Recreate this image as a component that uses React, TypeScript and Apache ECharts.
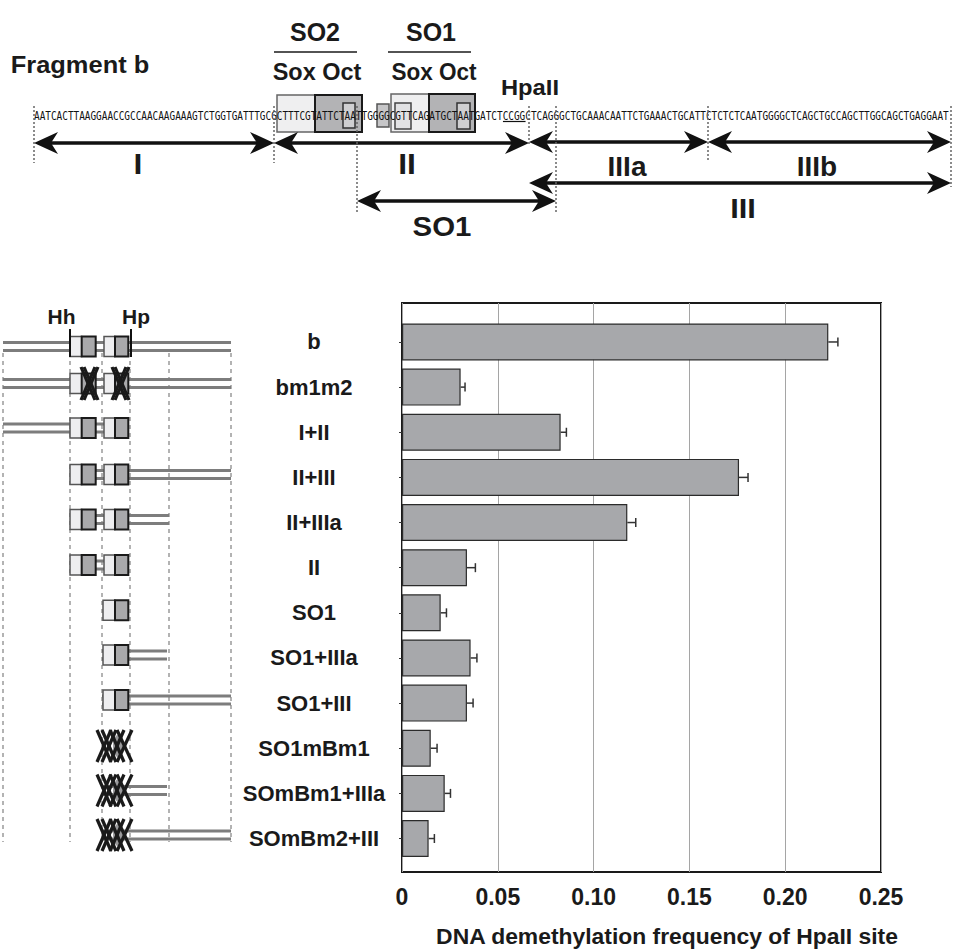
import React, { useEffect, useRef } from "react";
import * as echarts from "echarts";

// ---------- data ----------
const categories = [
  "b", "bm1m2", "I+II", "II+III", "II+IIIa", "II",
  "SO1", "SO1+IIIa", "SO1+III", "SO1mBm1", "SOmBm1+IIIa", "SOmBm2+III",
];
const frequency = [0.2225, 0.0306, 0.0828, 0.1759, 0.1176, 0.0339, 0.0202, 0.0358, 0.0339, 0.015, 0.0223, 0.0139];
const errors = [0.005, 0.0023, 0.003, 0.0047, 0.0044, 0.0044, 0.003, 0.0033, 0.0032, 0.0033, 0.003, 0.003];
const xTickLabels = ["0", "0.05", "0.10", "0.15", "0.20", "0.25"];
const xAxisTitle = "DNA demethylation frequency of HpaII site";
const sequence =
  "AATCACTTAAGGAACCGCCAACAAGAAAGTCTGGTGATTTGCG" +
  "CTTTCGTATTCTAATTGGGGCGTTCAGATGCTAATGATCTCCGG" +
  "CTCAGGGCTGCAAACAATTCTGAAACTGCATT" +
  "CTCTCTCAATGGGGCTCAGCTGCCAGCTTGGCAGCTGAGGAAT";

const FONT = '"Liberation Sans", Arial, Helvetica, sans-serif';
const INK = "#1a1a1a";

function txt(text: string, x: number, y: number, size: number, sx = 1.0): any {
  return {
    type: "text", x, y, scaleX: sx, z: 20,
    style: { text, fill: INK, fontSize: size, fontWeight: "bold", fontFamily: FONT, align: "center", verticalAlign: "middle" },
  };
}
function ln(x1: number, y1: number, x2: number, y2: number, stroke: string, lw: number, dash?: number[], z = 10): any {
  return { type: "line", z, shape: { x1, y1, x2, y2 }, style: { stroke, lineWidth: lw, lineDash: dash } };
}
function rc(x: number, y: number, w: number, h: number, fill: string, stroke: string, lw: number, z = 12): any {
  return { type: "rect", z, shape: { x, y, width: w, height: h }, style: { fill, stroke, lineWidth: lw } };
}
function arrow(x1: number, x2: number, y: number): any[] {
  const L = 24, H = 11, N = 17;
  return [
    ln(x1 + N - 2, y, x2 - N + 2, y, "#111", 3.5, undefined, 15),
    { type: "polygon", z: 15, shape: { points: [[x1, y], [x1 + L, y - H], [x1 + N, y], [x1 + L, y + H]] }, style: { fill: "#111" } },
    { type: "polygon", z: 15, shape: { points: [[x2, y], [x2 - L, y - H], [x2 - N, y], [x2 - L, y + H]] }, style: { fill: "#111" } },
  ];
}

function buildTop(): any[] {
  const g: any[] = [];
  g.push(txt("Fragment b", 80, 65, 24, 1.06));
  g.push(txt("SO2", 315, 32, 25, 1.0));
  g.push(txt("SO1", 431, 32, 25, 1.0));
  g.push(ln(274, 52, 357, 52, INK, 1.5));
  g.push(ln(388, 52, 471, 52, INK, 1.5));
  g.push(txt("Sox Oct", 317, 72, 23, 1.02));
  g.push(txt("Sox Oct", 434, 72, 23, 0.98));
  g.push(txt("HpaII", 530, 87, 22, 1.08));
  // boxes
  g.push(rc(277, 95, 38, 37, "#efeff0", "#666", 1.5));
  g.push(rc(315, 95, 47, 37, "#b3b3b5", INK, 2));
  g.push(rc(343, 103, 12, 25, "#cfcfd1", "#333", 1.5, 13));
  g.push(rc(377, 104, 12, 23, "#c6c6c8", "#555", 1.5));
  g.push(rc(391, 94, 38, 38, "#efeff0", "#666", 1.5));
  g.push(rc(395, 103, 16, 26, "#e2e2e4", "#444", 1.5, 13));
  g.push(rc(429, 94, 46, 38, "#b3b3b5", INK, 2));
  g.push(rc(457, 103, 13, 26, "#cfcfd1", "#333", 1.5, 13));
  // sequence
  const cw = 5.65, x0 = 34;
  g.push({
    type: "text", x: x0, y: 116, scaleX: cw / (12 * 0.602), z: 20,
    style: { text: sequence, fill: "#111", fontSize: 12, fontFamily: '"DejaVu Sans Mono", monospace', align: "left", verticalAlign: "middle" },
  });
  g.push(ln(x0 + 83 * cw, 121.5, x0 + 87 * cw, 121.5, "#111", 1.2, undefined, 20));
  // dotted boundaries
  const dots: [number, number, number][] = [[34, 106, 163], [274, 106, 163], [357, 106, 213], [529, 106, 145], [556, 106, 213], [708, 106, 160], [951, 106, 187]];
  dots.forEach(([x, a, b]) => g.push(ln(x, a, x, b, "#666", 1.5, [2, 2], 21)));
  // arrows
  g.push(...arrow(34, 274, 143));
  g.push(...arrow(274, 529, 143));
  g.push(...arrow(529, 708, 142));
  g.push(...arrow(708, 951, 142));
  g.push(...arrow(529, 951, 183));
  g.push(...arrow(357, 556, 201));
  g.push(txt("I", 138, 164, 29, 1.1));
  g.push(txt("II", 407, 164, 29, 1.1));
  g.push(txt("IIIa", 627, 166, 28, 1.0));
  g.push(txt("IIIb", 817, 166, 28, 1.0));
  g.push(txt("III", 743, 208, 28, 1.1));
  g.push(txt("SO1", 442, 226, 28, 1.05));
  return g;
}

function buildSchematic(): any[] {
  const g: any[] = [];
  const rowsY = [346.5, 383.5, 428, 474.5, 519.5, 565, 610.3, 655, 700, 746, 790.5, 835];
  const kinds = ["full", "mut", "full", "full", "full", "full", "so1", "so1", "so1", "x", "x", "x"];
  const spans: (number[] | null)[] = [[3, 231], [3, 231], [3, 128], [70, 231], [70, 169], [70, 128], null, [102, 167], [102, 231], null, [102, 167], [102, 231]];
  // dotted guides
  [3, 70, 102, 130, 169, 231].forEach((x) => g.push(ln(x, 353, x, 842, "#9a9a9a", 1.5, [4, 4], 5)));
  g.push(txt("Hh", 61.5, 317, 20, 1.05));
  g.push(txt("Hp", 136, 317, 20, 1.05));
  const dbl = (a: number, b: number, y: number) => {
    g.push(ln(a, y - 4, b, y - 4, "#7d7d7d", 3, undefined, 8));
    g.push(ln(a, y + 4, b, y + 4, "#7d7d7d", 3, undefined, 8));
  };
  const X = (a: number, b: number, y: number, h = 16) => {
    g.push(ln(a, y - h, b, y + h, "#1a1a1a", 3.2, undefined, 16));
    g.push(ln(b, y - h, a, y + h, "#1a1a1a", 3.2, undefined, 16));
  };
  rowsY.forEach((y, i) => {
    const k = kinds[i];
    const sp = spans[i];
    if (sp) dbl(sp[0], sp[1], y);
    if (k === "full" || k === "mut") {
      g.push(rc(70, y - 10, 11.7, 20, "#eeeef0", "#555", 1.5));
      g.push(rc(81.7, y - 10, 14, 20, "#a9a9ab", INK, 2));
      g.push(rc(104, y - 10, 11, 20, "#eeeef0", "#555", 1.5));
      g.push(rc(115, y - 10, 13.3, 20, "#a9a9ab", INK, 2));
      if (k === "mut") {
        X(81, 95, y, 16.5); X(84, 98, y, 16.5);
        X(112, 126, y, 16.5); X(115, 129, y, 16.5);
      }
    } else if (k === "so1") {
      g.push(rc(103, y - 10, 12, 20, "#eeeef0", "#555", 1.5));
      g.push(rc(115, y - 10, 13.3, 20, "#a9a9ab", INK, 2));
    } else {
      g.push({ type: "ellipse", z: 14, shape: { cx: 118, cy: y, rx: 5, ry: 11 }, style: { fill: "#9a9a9c" } });
      X(97, 111, y); X(102, 116, y); X(110, 124, y); X(117, 132, y);
    }
  });
  g.push(ln(70, 329, 70, 357, "#111", 2, undefined, 18));
  g.push(ln(131, 329, 131, 357, "#111", 2, undefined, 18));
  return g;
}

export default function App() {
  const ref = useRef<HTMLDivElement>(null);
  useEffect(() => {
    document.body.style.margin = "0";
    const chart = echarts.init(ref.current!, undefined, { renderer: "svg" });
    const left = 402, right = 957 - 881;
    chart.setOption({
      animation: false,
      backgroundColor: "#ffffff",
      grid: [
        { left, right, top: 303, height: 569, show: true, borderColor: "#1a1a1a", borderWidth: 2, backgroundColor: "transparent" },
        { left, right, top: 319.4, height: 541.7 },
      ],
      xAxis: [
        {
          type: "value", gridIndex: 0, min: 0, max: 0.25, interval: 0.05,
          axisLine: { show: false }, axisTick: { show: false },
          splitLine: { show: true, lineStyle: { color: "#a5a5a5", width: 1 } },
          axisLabel: {
            margin: 13, color: INK, fontSize: 23, fontWeight: "bold", fontFamily: FONT,
            formatter: (v: number) => xTickLabels[Math.round(v / 0.05)] ?? "",
          },
        },
        { type: "value", gridIndex: 1, min: 0, max: 0.25, show: false },
      ],
      yAxis: [
        { type: "value", gridIndex: 0, show: false, min: 0, max: 1 },
        {
          type: "category", gridIndex: 1, data: categories, inverse: true,
          axisLine: { show: false },
          axisTick: { show: true, alignWithLabel: true, length: 3, lineStyle: { color: "#333" } },
          axisLabel: { margin: 88, align: "center", color: INK, fontSize: 22, fontWeight: "bold", fontFamily: FONT },
        },
      ],
      series: [
        {
          type: "bar", xAxisIndex: 1, yAxisIndex: 1, data: frequency, barWidth: 37,
          itemStyle: { color: "#a7a8ab", borderColor: "#2b2b2b", borderWidth: 1.2 }, z: 3,
        },
        {
          type: "custom", xAxisIndex: 1, yAxisIndex: 1, z: 5,
          data: frequency.map((v, i) => [v, i, errors[i]]),
          encode: { x: 0, y: 1 },
          renderItem: (_p: any, api: any) => {
            const v = api.value(0), i = api.value(1), e = api.value(2);
            const p0 = api.coord([v, i]);
            const p1 = api.coord([v + e, i]);
            return {
              type: "group",
              children: [
                { type: "line", shape: { x1: p0[0], y1: p0[1], x2: p1[0], y2: p1[1] }, style: { stroke: "#333", lineWidth: 1.5 } },
                { type: "line", shape: { x1: p1[0], y1: p1[1] - 4.5, x2: p1[0], y2: p1[1] + 4.5 }, style: { stroke: "#333", lineWidth: 1.5 } },
              ],
            };
          },
        },
      ],
      graphic: [
        ...buildTop(),
        ...buildSchematic(),
        txt(xAxisTitle, 667, 937, 22, 1.04),
      ],
    });
    return () => chart.dispose();
  }, []);
  return <div ref={ref} style={{ width: 957, height: 949 }} />;
}
